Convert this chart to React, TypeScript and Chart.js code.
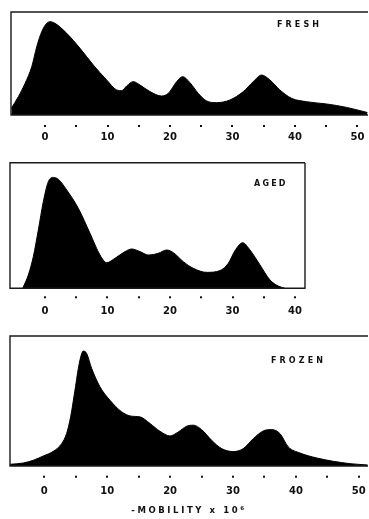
import React, { useEffect, useRef } from "react";
import { Chart, registerables } from "chart.js";

Chart.register(...registerables);

// Mobility (x 10^6) and relative height (% of panel box) for each electrophoretic pattern
const freshX = [-5.4, -4.27, -3.2, -2.13, -1.33, -0.53, 0.27, 0.8, 1.6, 3.47, 5.6, 7.73, 9.87, 11.47, 12.27, 13.07, 14.13, 15.2, 16.8, 18.67, 19.73, 21.07, 22.03, 23.2, 24.53, 25.87, 27.47, 29.6, 31.73, 33.33, 34.67, 36, 37.6, 39.47, 41.87, 45.07, 48.27, 51.6];
const freshY = [6.5, 17.8, 30.7, 46.9, 66.3, 80.9, 89, 90.6, 89, 79.3, 64.7, 48.5, 34, 24.3, 23.6, 28.2, 32.4, 29.1, 22.7, 18.4, 21, 32.4, 37.2, 31.4, 21, 13.6, 12, 14.6, 22.7, 32.4, 38.8, 34, 24.3, 16.2, 12.9, 10.7, 7.4, 2.4];

const agedX = [-3.57, -2.67, -1.87, -1.07, -0.27, 0.53, 1.33, 2.13, 3.47, 5.33, 7.2, 8.8, 9.87, 11.2, 12.8, 13.87, 15.2, 16.53, 18.13, 19.47, 20.53, 22.13, 23.73, 25.87, 28, 29.33, 30.4, 31.63, 32.8, 34.4, 36, 37.33, 38.4];
const agedY = [0, 10.6, 25.2, 46.4, 69, 84.9, 88.3, 86.8, 78.3, 63.7, 43.8, 26.5, 20.4, 23.9, 29.2, 31.3, 29.2, 26.5, 27.9, 30.5, 28.4, 21.2, 15.9, 12.7, 14.1, 19.9, 30, 36.3, 30.5, 18.6, 6.6, 1.8, 0];

const frozenX = [-5.45, -3.34, -1.75, -0.16, 1.43, 2.76, 3.55, 4.19, 4.88, 5.56, 6.2, 6.73, 7.53, 8.85, 10.44, 12.29, 13.88, 15.21, 16.8, 18.39, 19.98, 21.3, 22.63, 23.69, 25.01, 26.6, 28.19, 30.05, 31.64, 33.23, 34.82, 36.14, 37.47, 38.79, 40.65, 43.3, 45.95, 48.6, 51.4];
const frozenY = [1.3, 2.3, 4.4, 7.7, 11.3, 17.2, 25, 37.8, 58.4, 78.9, 88.4, 86.6, 75.1, 60.9, 50.6, 41.7, 38.3, 37.8, 32.7, 26.7, 23.1, 26.2, 30.6, 31.4, 28, 19.8, 13.4, 11.1, 13.4, 21.1, 27, 28, 24.9, 14.7, 10, 6.2, 3.6, 1.8, 0.8];

const labelTicksWide = [0, 10, 20, 30, 40, 50];
const labelTicksAged = [0, 10, 20, 30, 40];
const dotTicksWide = [0, 5, 10, 15, 20, 25, 30, 35, 40, 45, 50];
const dotTicksAged = [0, 5, 10, 15, 20, 25, 30, 35, 40];

const panelNames = ["FRESH", "AGED", "FROZEN"];
const axisTitle = "-MOBILITY x 10";
const axisTitleExp = "6";

type PanelProps = {
  top: number;
  height: number;
  xs: number[];
  ys: number[];
  xMin: number;
  xMax: number;
  padLeft: number;
  padRight: number;
  padTop: number;
  axisHeight: number;
  labelPad: number;
  dotOffset: number;
  labelTicks: number[];
  dotTicks: number[];
  rightBorder: boolean;
};

function Panel(p: PanelProps) {
  const ref = useRef<HTMLCanvasElement | null>(null);
  useEffect(() => {
    if (!ref.current) return;
    const boxPlugin = {
      id: "boxAndDots",
      afterDraw(chart: any) {
        const { ctx, chartArea } = chart;
        const { left, right, top, bottom } = chartArea;
        ctx.save();
        ctx.strokeStyle = "#1a1a1a";
        ctx.lineWidth = 1.4;
        ctx.beginPath();
        ctx.moveTo(right, top);
        ctx.lineTo(left, top);
        ctx.lineTo(left, bottom);
        ctx.lineTo(right, bottom);
        if (p.rightBorder) ctx.lineTo(right, top);
        ctx.stroke();
        ctx.fillStyle = "#111";
        const xs = chart.scales.x;
        p.dotTicks.forEach((v) => {
          const px = xs.getPixelForValue(v);
          ctx.fillRect(Math.round(px) - 1, bottom + p.dotOffset - 1, 2, 2);
        });
        ctx.restore();
      },
    };
    const chart = new Chart(ref.current, {
      type: "line",
      data: {
        datasets: [
          {
            data: p.xs.map((x, i) => ({ x, y: p.ys[i] })),
            borderColor: "#000",
            backgroundColor: "#000",
            borderWidth: 1,
            fill: "origin",
            pointRadius: 0,
            cubicInterpolationMode: "monotone",
          },
        ],
      },
      options: {
        responsive: false,
        animation: false,
        events: [],
        layout: { padding: { left: p.padLeft, right: p.padRight, top: p.padTop, bottom: 0 } },
        plugins: { legend: { display: false }, tooltip: { enabled: false }, title: { display: false } },
        scales: {
          x: {
            type: "linear",
            min: p.xMin,
            max: p.xMax,
            afterBuildTicks: (s: any) => {
              s.ticks = p.labelTicks.map((v) => ({ value: v }));
            },
            afterFit: (s: any) => {
              s.height = p.axisHeight;
            },
            grid: {
              display: true,
              drawOnChartArea: false,
              drawTicks: true,
              tickLength: p.labelPad,
              color: "rgba(0,0,0,0)",
            },
            border: { display: false },
            ticks: {
              color: "#111",
              padding: 0,
              maxRotation: 0,
              autoSkip: false,
              font: { family: "DejaVu Sans", weight: "bold", size: 10 },
            },
          },
          y: { display: false, min: 0, max: 100 },
        },
      },
      plugins: [boxPlugin],
    } as any);
    return () => chart.destroy();
  }, []);
  return (
    <div style={{ position: "absolute", left: 0, top: p.top, width: 369, height: p.height }}>
      <canvas ref={ref} width={369} height={p.height} style={{ width: 369, height: p.height, display: "block" }} />
    </div>
  );
}

const labelStyle: React.CSSProperties = {
  position: "absolute",
  fontFamily: "DejaVu Sans",
  fontWeight: "bold",
  fontSize: 8,
  lineHeight: "10px",
  letterSpacing: 3.1,
  color: "#111",
  whiteSpace: "nowrap",
};

export default function App() {
  return (
    <div style={{ position: "fixed", left: 0, top: 0, width: 369, height: 519, background: "#fff", overflow: "hidden" }}>
      <Panel top={0} height={150} xs={freshX} ys={freshY} xMin={-5.45} xMax={51.7} padLeft={11} padRight={1} padTop={12}
        axisHeight={35} labelPad={16} dotOffset={11} labelTicks={labelTicksWide} dotTicks={dotTicksWide} rightBorder={false} />
      <Panel top={150} height={175} xs={agedX} ys={agedY} xMin={-5.6} xMax={41.6} padLeft={10} padRight={64} padTop={12.7}
        axisHeight={36.7} labelPad={17.2} dotOffset={9} labelTicks={labelTicksAged} dotTicks={dotTicksAged} rightBorder={true} />
      <Panel top={325} height={194} xs={frozenX} ys={frozenY} xMin={-5.45} xMax={51.46} padLeft={10} padRight={1} padTop={11}
        axisHeight={53} labelPad={19.5} dotOffset={10.7} labelTicks={labelTicksWide} dotTicks={dotTicksWide} rightBorder={false} />
      <div style={{ ...labelStyle, left: 277, top: 20 }}>{panelNames[0]}</div>
      <div style={{ ...labelStyle, left: 254, top: 179, letterSpacing: 2.2 }}>{panelNames[1]}</div>
      <div style={{ ...labelStyle, left: 271, top: 356 }}>{panelNames[2]}</div>
      <div style={{ position: "absolute", left: 0, width: 378, top: 504, textAlign: "center", fontFamily: "DejaVu Sans", fontWeight: "bold", fontSize: 8.5, lineHeight: "12px", letterSpacing: 2.6, color: "#111", whiteSpace: "nowrap" }}>
        {axisTitle}<sup style={{ fontSize: 5.5, verticalAlign: "3px", lineHeight: 0 }}>{axisTitleExp}</sup>
      </div>
    </div>
  );
}
